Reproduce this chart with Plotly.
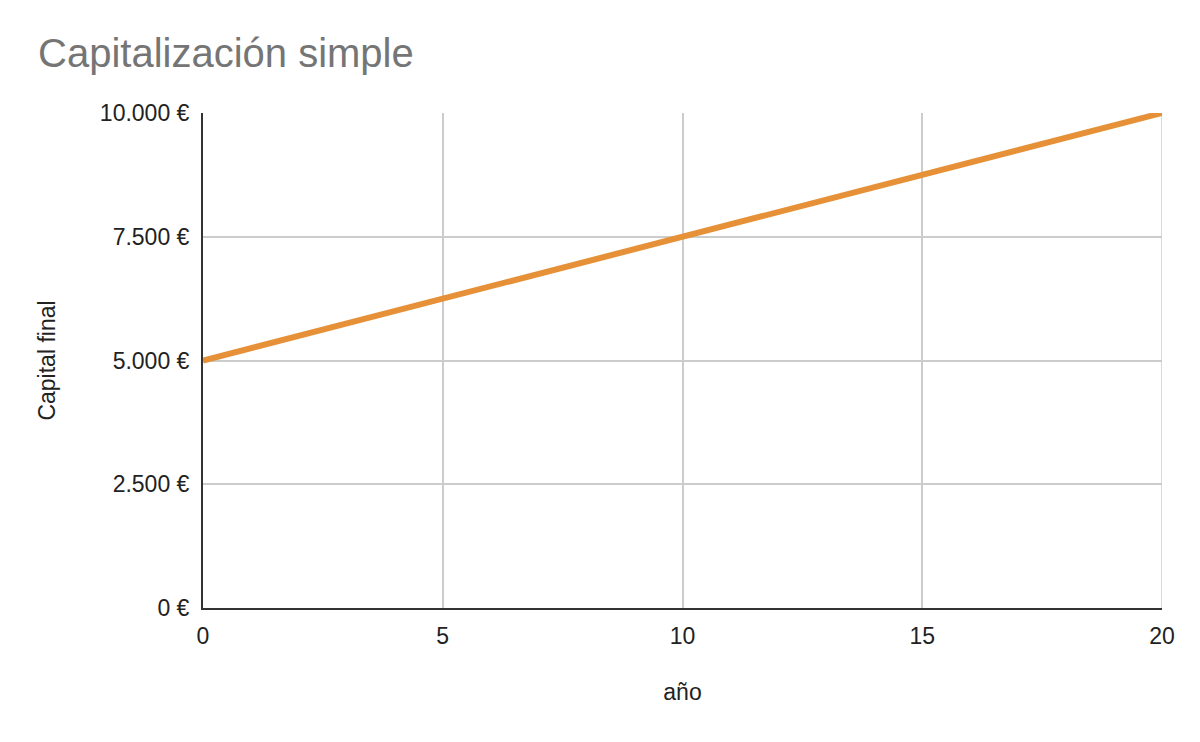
import plotly.graph_objects as go

years = [0, 1, 2, 3, 4, 5, 6, 7, 8, 9, 10, 11, 12, 13, 14, 15, 16, 17, 18, 19, 20]
capital_final = [5000, 5250, 5500, 5750, 6000, 6250, 6500, 6750, 7000, 7250, 7500,
                 7750, 8000, 8250, 8500, 8750, 9000, 9250, 9500, 9750, 10000]

y_tickvals = [0, 2500, 5000, 7500, 10000]
y_ticktext = ["0 €", "2.500 €", "5.000 €", "7.500 €", "10.000 €"]
x_tickvals = [0, 5, 10, 15, 20]
x_ticktext = ["0", "5", "10", "15", "20"]

FONT = "Arial, Liberation Sans, sans-serif"
TXT = "#222222"

fig = go.Figure()
fig.add_trace(go.Scatter(
    x=years, y=capital_final, mode="lines",
    line=dict(color="#E69138", width=6),
    showlegend=False,
))

fig.update_layout(
    width=1200, height=742,
    paper_bgcolor="white", plot_bgcolor="white",
    margin=dict(l=195, r=46, t=105, b=142),
    title=dict(text="Capitalización simple", x=30 / 1200, xanchor="left",
               y=1 - 45 / 742, yanchor="middle",
               font=dict(family=FONT, size=40, color="#757575")),
    font=dict(family=FONT, size=23, color=TXT),
)

fig.update_xaxes(
    range=[0, 20], tickvals=x_tickvals, ticktext=x_ticktext,
    showgrid=True, gridcolor="#CCCCCC", gridwidth=1.5,
    zeroline=False, showline=True, linecolor="#333333", linewidth=2,
    ticks="", ticklabelstandoff=6,
    title=dict(text="año", standoff=36, font=dict(family=FONT, size=23, color=TXT)),
    tickfont=dict(family=FONT, size=23, color=TXT),
    automargin=False,
)
fig.update_yaxes(
    range=[0, 10000], tickvals=y_tickvals, ticktext=y_ticktext,
    showgrid=True, gridcolor="#CCCCCC", gridwidth=1.5,
    zeroline=False, showline=True, linecolor="#333333", linewidth=2,
    ticks="", ticklabelstandoff=7,
    title=dict(text="Capital final", standoff=38, font=dict(family=FONT, size=23, color=TXT)),
    tickfont=dict(family=FONT, size=23, color=TXT),
    automargin=False,
)
# right border gridline at x=20
fig.add_shape(type="line", xref="x", yref="paper", x0=20, x1=20, y0=0, y1=1,
              line=dict(color="#CCCCCC", width=1.5), layer="below")

fig.write_html("out.html")
